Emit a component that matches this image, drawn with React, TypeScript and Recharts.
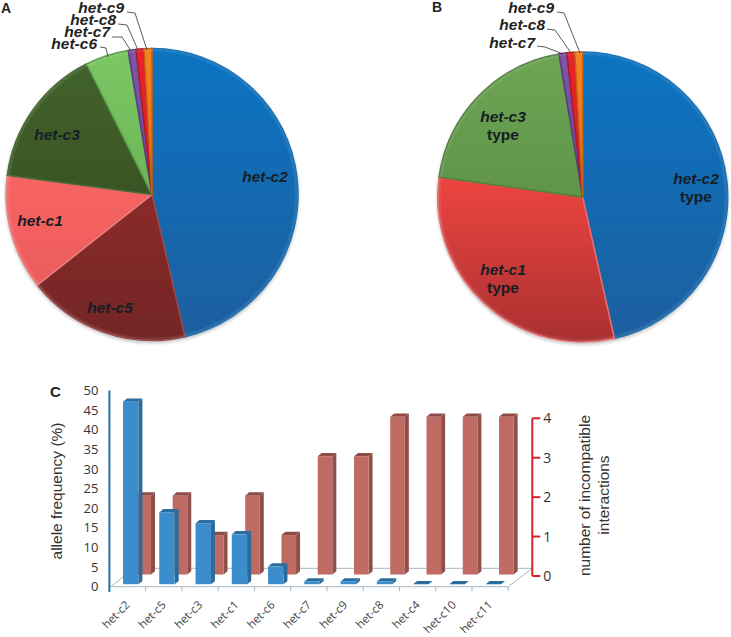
import { BarChart, Bar, Cell, Pie, PieChart, XAxis, YAxis } from "recharts";

const sansFont = "'Liberation Sans', Arial, sans-serif";
const chartFont = "'Open Sans', sans-serif";

// Panel A, allele frequency per het-c allele
const allelesA = ["het-c2", "het-c5", "het-c1", "het-c3", "het-c6", "het-c7", "het-c8", "het-c9"];
const sharesA = [46.4, 18, 12.75, 15.5, 4.8, 0.87, 0.87, 0.87];

// Panel B, same thing grouped by type
const allelesB = ["het-c2", "het-c1", "het-c3", "het-c7", "het-c8", "het-c9"];
const sharesB = [46.5, 30.7, 20.2, 0.87, 0.87, 0.87];

// Panel C
const barCategories = ["het-c2", "het-c5", "het-c3", "het-c1", "het-c6", "het-c7", "het-c9", "het-c8", "het-c4", "het-c10", "het-c11"];
const frequency = [46.5, 18.3, 15.5, 12.7, 4.5, 0.7, 0.7, 0.7, 0, 0, 0];
const incompatible = [2, 2, 1, 2, 1, 3, 3, 4, 4, 4, 4];
const frequencyTicks = [0, 5, 10, 15, 20, 25, 30, 35, 40, 45, 50];
const incompatibleTicks = [0, 1, 2, 3, 4];

const pieDataA = allelesA.map((name, i) => ({ name, value: sharesA[i] }));
const pieDataB = allelesB.map((name, i) => ({ name, value: sharesB[i] }));
const barDataFreq = barCategories.map((name, i) => ({ name, value: frequency[i] }));
const barDataInc = barCategories.map((name, i) => ({ name, value: incompatible[i] }));

const gradA: Record<string, string[]> = {
  "het-c2": ["#0b74c2", "#1d5f9f", "#1a6fb0"],
  "het-c5": ["#8a2a2a", "#732525", "#9a4a4a"],
  "het-c1": ["#f86464", "#ec5c5c", "#e98080"],
  "het-c3": ["#41622a", "#3a5525", "#4a6a35"],
  "het-c6": ["#7cc765", "#6db555", "#5a9a48"],
  "het-c7": ["#7f55a8", "#6d4695", "#5c3a80"],
  "het-c8": ["#e8222c", "#d81f28", "#b01a20"],
  "het-c9": ["#f58220", "#ec7416", "#c8620f"],
};
const gradB: Record<string, string[]> = {
  ...gradA,
  "het-c1": ["#ee4540", "#a93030", "#e87070"],
  "het-c3": ["#6ea553", "#5f9449", "#4f7f3d"],
};

// where the labels sit, in chart pixels: [x, y, anchor] and leader line points
const spotsA: Record<string, [number, number, string]> = {
  "het-c2": [265, 182, "middle"],
  "het-c5": [110, 313, "middle"],
  "het-c1": [40, 226, "middle"],
  "het-c3": [57, 140, "middle"],
  "het-c6": [97, 49, "end"],
  "het-c7": [110, 37, "end"],
  "het-c8": [116, 25, "end"],
  "het-c9": [124, 13, "end"],
};
const leadersA: Record<string, string> = {
  "het-c6": "100,47 106,48 108,57",
  "het-c7": "112,37 122,37 131,51",
  "het-c8": "118,24 127,25 138,50",
  "het-c9": "127,12 135,13 147,50",
};
const spotsB: Record<string, [number, number, string]> = {
  "het-c2": [271, 184, "middle"],
  "het-c1": [78, 275, "middle"],
  "het-c3": [78, 122, "middle"],
  "het-c7": [110, 48, "end"],
  "het-c8": [120, 30, "end"],
  "het-c9": [129, 13, "end"],
};
const leadersB: Record<string, string> = {
  "het-c7": "112,46 120,47 138,54",
  "het-c8": "122,29 130,30 146,53",
  "het-c9": "132,12 139,13 155,53",
};

const makeLabel = (spots: Record<string, [number, number, string]>, leaders: Record<string, string>, typed: boolean) =>
  function PieLabel(props: any) {
    const name = props.name ?? props.payload?.name;
    const [x, y, anchor] = spots[name];
    const big = anchor === "middle";
    return (
      <g>
        {leaders[name] && <polyline points={leaders[name]} fill="none" stroke="#333" strokeWidth={0.8} />}
        <text x={x} y={y} textAnchor={anchor} fontFamily={sansFont} fontSize={15.5} fontWeight="bold" fontStyle="italic" fill={big ? "#161e26" : "#222"}>
          {name}
        </text>
        {typed && big && (
          <text x={x} y={y + 18} textAnchor="middle" fontFamily={sansFont} fontSize={15.5} fontWeight="bold" fill="#161e26">
            type
          </text>
        )}
      </g>
    );
  };

function PiePanel({ data, grads, prefix, left, width, cx, cy, r, label }: any) {
  return (
    <div style={{ position: "absolute", left, top: 0 }}>
      <PieChart width={width} height={350} margin={{ top: 0, right: 0, bottom: 0, left: 0 }}>
        <defs>
          {data.map((d: any, i: number) => (
            <linearGradient key={d.name} id={`${prefix}${i}`} x1="0" y1="0" x2="0" y2="1">
              <stop offset="0%" stopColor={grads[d.name][0]} />
              <stop offset="100%" stopColor={grads[d.name][1]} />
            </linearGradient>
          ))}
          <filter id={`${prefix}blur`}>
            <feGaussianBlur stdDeviation="1.5" />
          </filter>
        </defs>
        <circle cx={cx} cy={cy + 2} r={r + 1} fill="#999" opacity={0.5} filter={`url(#${prefix}blur)`} />
        <Pie
          data={data}
          dataKey="value"
          nameKey="name"
          cx={cx}
          cy={cy}
          outerRadius={r}
          startAngle={90}
          endAngle={-270}
          label={label}
          labelLine={false}
          isAnimationActive={false}
        >
          {data.map((d: any, i: number) => (
            <Cell key={d.name} fill={`url(#${prefix}${i})`} stroke={grads[d.name][2]} strokeWidth={1.5} />
          ))}
        </Pie>
        {/* thin rim for the bevel look */}
        <Pie
          data={data}
          dataKey="value"
          cx={cx}
          cy={cy}
          innerRadius={r - 3}
          outerRadius={r}
          startAngle={90}
          endAngle={-270}
          fill="#ffffff"
          fillOpacity={0.08}
          stroke="none"
          isAnimationActive={false}
        />
      </PieChart>
    </div>
  );
}

const bar3d = (front: string, side: string, top: string, shiftX: number, shiftY: number) =>
  function Bar3d(props: any) {
    const w = props.width;
    const x = props.x + shiftX;
    const y = props.y + shiftY;
    const h = props.height;
    const dx = 4;
    const dy = 3.3;
    return (
      <g>
        <polygon points={`${x + w},${y} ${x + w + dx},${y - dy} ${x + w + dx},${y + h - dy} ${x + w},${y + h}`} fill={side} />
        <polygon points={`${x},${y} ${x + dx},${y - dy} ${x + w + dx},${y - dy} ${x + w},${y}`} fill={top} />
        <rect x={x} y={y} width={w} height={h} fill={front} />
      </g>
    );
  };

function CategoryTick({ x, y, payload }: any) {
  return (
    <g>
      <line x1={x + 18.1} x2={x + 18.1} y1={y} y2={y + 4.5} stroke="#9fb2c0" />
      <text
        transform={`rotate(-45 ${x + 3} ${y + 19})`}
        x={x + 3}
        y={y + 19}
        textAnchor="end"
        fontFamily={chartFont}
        fontSize={11.5}
        fill="#444"
      >
        {payload.value}
      </text>
    </g>
  );
}

const numTick = { fontFamily: chartFont, fontSize: 13, fill: "#333" };

export default function App() {
  return (
    <div style={{ position: "absolute", left: 0, top: 0, width: 731, height: 637, background: "#fff", overflow: "hidden" }}>
      <PiePanel data={pieDataA} grads={gradA} prefix="a" left={0} width={310} cx={152} cy={194.5} r={146} label={makeLabel(spotsA, leadersA, false)} />
      <PiePanel data={pieDataB} grads={gradB} prefix="b" left={425} width={306} cx={157.7} cy={197} r={145} label={makeLabel(spotsB, leadersB, true)} />

      {/* back row: red bars on the right axis */}
      <div style={{ position: "absolute", left: 0, top: 0 }}>
        <BarChart width={731} height={637} data={barDataInc} margin={{ top: 418.3, right: 158.7, bottom: 21, left: 133.4 }}>
          <polyline points="111,586.7 133.4,568.3 532.3,568.3 508.3,586.7" fill="none" stroke="#a9b6c0" strokeWidth={1} />
          <XAxis dataKey="name" height={40} axisLine={false} tickLine={false} tick={false} />
          <YAxis
            orientation="right"
            yAxisId={0}
            width={40}
            domain={[0, 4]}
            ticks={incompatibleTicks}
            axisLine={{ stroke: "#d8212a", strokeWidth: 2 }}
            tickLine={{ stroke: "#d8212a", strokeWidth: 2 }}
            tickSize={8}
            tickMargin={3}
            tick={{ ...numTick, fontSize: 14 }}
          />
          <Bar dataKey="value" barSize={14.6} shape={bar3d("#bf6b64", "#8f4f4b", "#8d4c47", -8, -1.5)} isAnimationActive={false} />
          <text transform="rotate(-90 590 495.5)" x={590} y={495.5} textAnchor="middle" fontFamily={sansFont} fontSize={15.5} fill="#333">
            number of incompatible
          </text>
          <text transform="rotate(-90 609 495)" x={609} y={495} textAnchor="middle" fontFamily={sansFont} fontSize={15.5} fill="#333">
            interactions
          </text>
        </BarChart>
      </div>

      {/* front row: blue bars on the left axis */}
      <div style={{ position: "absolute", left: 0, top: 0 }}>
        <BarChart width={731} height={637} data={barDataFreq} margin={{ top: 390.5, right: 222.7, bottom: 10.3, left: 69.4 }}>
          <XAxis
            dataKey="name"
            height={40}
            interval={0}
            axisLine={{ stroke: "#a9b6c0" }}
            tickLine={false}
            tickSize={0}
            tickMargin={0}
            tick={<CategoryTick />}
          />
          <YAxis
            width={40}
            domain={[0, 50]}
            ticks={frequencyTicks}
            interval={0}
            axisLine={{ stroke: "#1f6ea5", strokeWidth: 2 }}
            tickLine={false}
            tickSize={0}
            tickMargin={11}
            tick={numTick}
          />
          <line x1={109.4} x2={109.4} y1={586} y2={592} stroke="#1f6ea5" strokeWidth={2} />
          <Bar dataKey="value" barSize={15.4} shape={bar3d("#3b8dcb", "#2b6a99", "#2a6d9e", 3.6, -2.5)} isAnimationActive={false} />
          <text transform="rotate(-90 62 491)" x={62} y={491} textAnchor="middle" fontFamily={sansFont} fontSize={15.5} fill="#333">
            allele frequency (%)
          </text>
        </BarChart>
      </div>

      <svg width={731} height={637} style={{ position: "absolute", left: 0, top: 0, pointerEvents: "none" }}>
        <g fontFamily={sansFont} fontSize={14} fontWeight="bold" fill="#222">
          <text x={1} y={12.5}>A</text>
          <text x={432} y={12}>B</text>
          <text x={50} y={397} fontSize={15}>C</text>
        </g>
      </svg>
    </div>
  );
}
